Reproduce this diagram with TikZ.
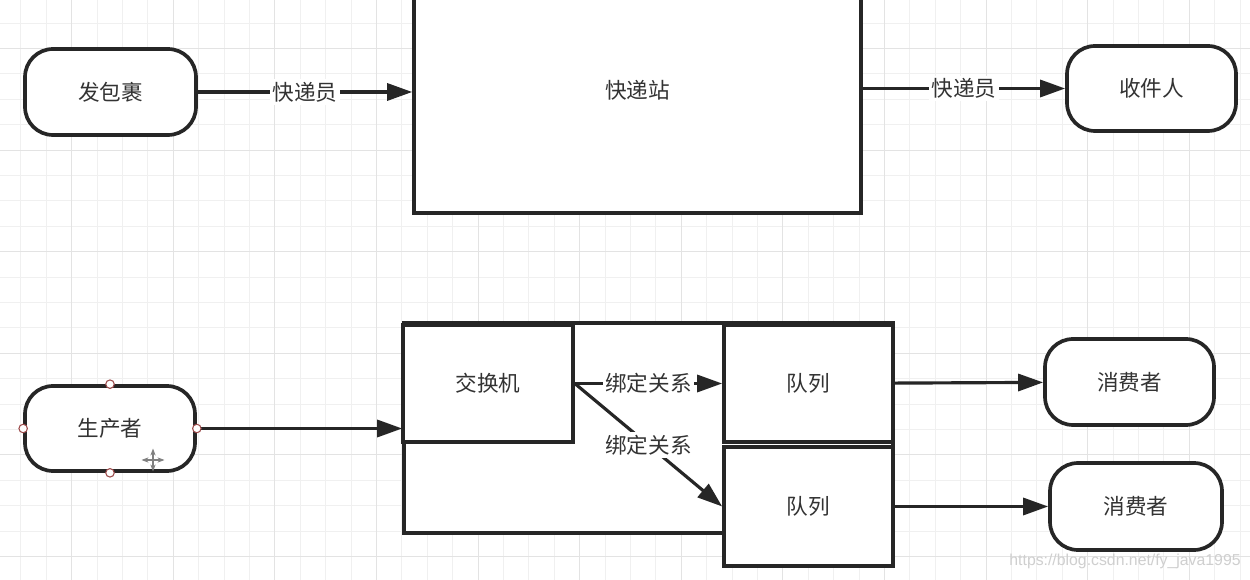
\documentclass[tikz,border=0pt]{standalone}
\usepackage{fontspec}
\setmainfont{Noto Sans CJK SC}
\newfontfamily\markfont{Liberation Sans}
\usepackage{tikz}
\usetikzlibrary{arrows.meta}
\definecolor{linegray}{HTML}{262626}
\definecolor{textgray}{HTML}{333333}
\definecolor{gridminor}{HTML}{F0F0F0}
\definecolor{gridmajor}{HTML}{E3E3E3}
\definecolor{handlered}{HTML}{9C4B4B}
\definecolor{markgray}{HTML}{CFCFCF}

\begin{document}
\begin{tikzpicture}[x=0.02cm, y=-0.02cm,
    box/.style={draw=linegray, line width=2.1pt, fill=white, text=textgray, font=\fontsize{12.3}{14}\selectfont, inner sep=0pt},
    roundbox/.style={box, rounded corners=0.56cm},
    link/.style={draw=linegray, line width=1.8pt, -{Triangle[length=0.5cm, width=0.34cm]}},
    tag/.style={fill=white, inner sep=1.5pt, text=textgray, font=\fontsize{12.3}{14}\selectfont},
    handle/.style={circle, draw=handlered, fill=white, line width=0.6pt, inner sep=0pt, minimum size=0.17cm}]

    \useasboundingbox (0,0) rectangle (1250,580);
    \clip (0,0) rectangle (1250,580);
    \fill [white] (0,0) rectangle (1250,580);

    \foreach \k in {0,...,49}
        \draw [gridminor, line width=0.5pt] ({20.9+25.4*\k},0) -- ({20.9+25.4*\k},580);
    \foreach \k in {0,...,23}
        \draw [gridminor, line width=0.5pt] (0,{23+25.4*\k}) -- (1250,{23+25.4*\k});
    \foreach \k in {0,...,11}
        \draw [gridmajor, line width=0.5pt] ({71.7+101.6*\k},0) -- ({71.7+101.6*\k},580);
    \foreach \k in {0,...,5}
        \draw [gridmajor, line width=0.5pt] (0,{48.4+101.6*\k}) -- (1250,{48.4+101.6*\k});

    \node (fa) at (110.5,92) [roundbox, minimum width=3.42cm, minimum height=1.72cm] {发包裹};
    \node (zhan) at (637.5,90) [box, minimum width=8.94cm, minimum height=4.92cm] {快递站};
    \node (shou) at (1151.5,88.5) [roundbox, minimum width=3.38cm, minimum height=1.70cm] {收件人};

    \draw [link] (fa) -- (fa -| zhan.west) node [tag, midway] {快递员};
    \draw [link] (zhan.east |- shou) -- (shou) node [tag, midway] {快递员};

    \node (vhost) at (648.5,428) [box, minimum width=9.78cm, minimum height=4.20cm] {};
    \node (jiao) at (488,383.5) [box, minimum width=3.40cm, minimum height=2.34cm] {交换机};
    \node (dl1) at (808.5,383.5) [box, minimum width=3.38cm, minimum height=2.34cm] {队列};
    \node (dl2) at (808.5,506.5) [box, minimum width=3.38cm, minimum height=2.38cm] {队列};

    \node (sheng) at (110,428.5) [roundbox, minimum width=3.40cm, minimum height=1.70cm] {生产者};
    \node (xf1) at (1129.5,382) [roundbox, minimum width=3.38cm, minimum height=1.72cm] {消费者};
    \node (xf2) at (1136,506.5) [roundbox, minimum width=3.44cm, minimum height=1.74cm] {消费者};

    \draw [link] (sheng) -- (sheng -| vhost.west);
    \draw [link] (jiao.east) -- (dl1.west) node [tag, midway] {绑定关系};
    \draw [link] (jiao.east) -- (dl2.west) node [tag, midway] {绑定关系};
    \draw [link] (dl1) -- (xf1);
    \draw [link] (dl2) -- (xf2);

    \foreach \a in {north,south,east,west}
        \node (h\a) at (sheng.\a) [handle] {};

    \coordinate (cursor) at (153,460);
    \draw [gray, line width=0.7pt, {Stealth[length=1.4mm]}-{Stealth[length=1.4mm]}] ([xshift=-2.3mm]cursor) -- ([xshift=2.3mm]cursor);
    \draw [gray, line width=0.7pt, {Stealth[length=1.4mm]}-{Stealth[length=1.4mm]}] ([yshift=-2.3mm]cursor) -- ([yshift=2.3mm]cursor);

    \node (mark) at (1125,561) [text=markgray, font=\markfont\fontsize{9}{10}\selectfont] {https://blog.csdn.net/fy\_java1995};
\end{tikzpicture}
\end{document}
